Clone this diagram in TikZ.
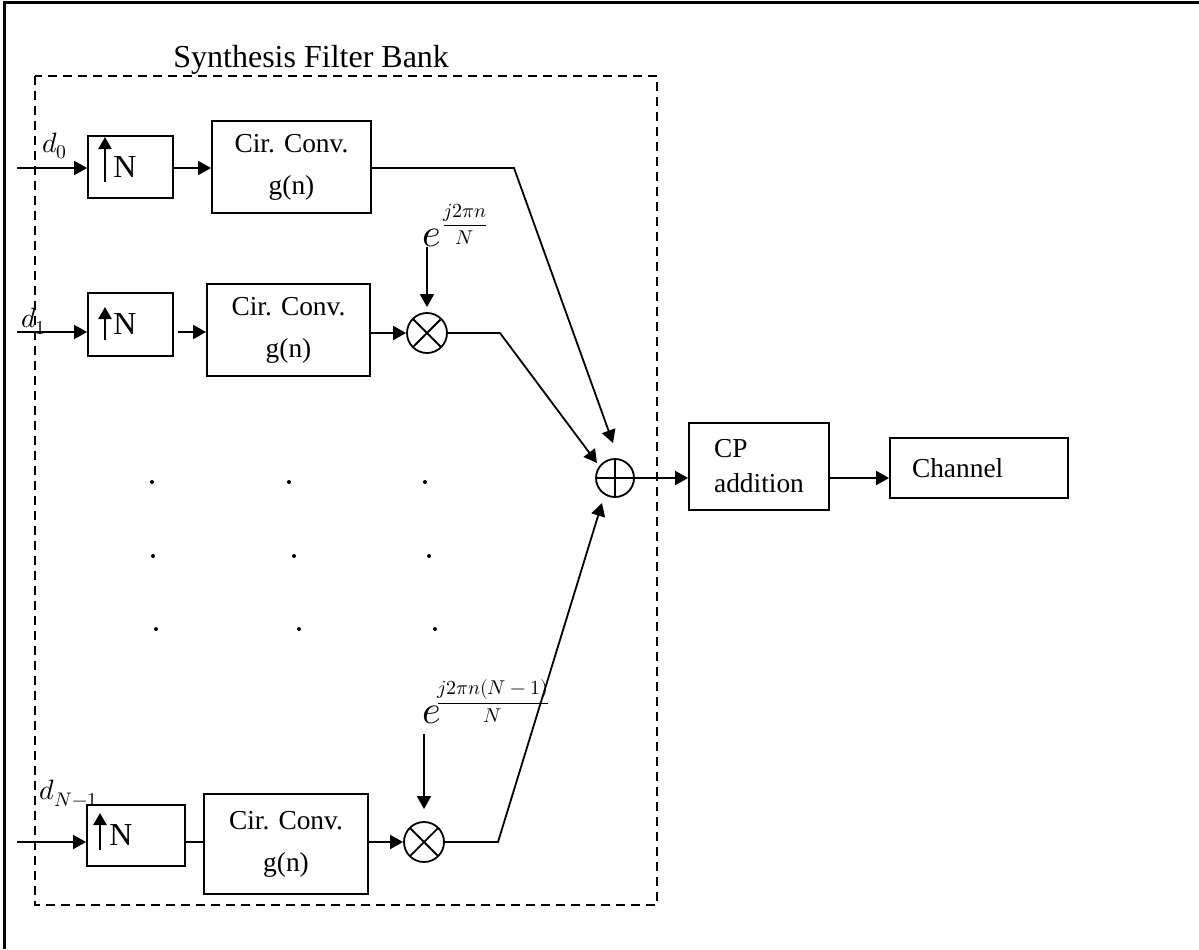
\documentclass[tikz,border=0pt]{standalone}
\usepackage{fontspec}
\usepackage{unicode-math}
\setmainfont{Liberation Serif}
\setmathfont{Latin Modern Math}
\usetikzlibrary{arrows.meta,calc}
\begin{document}
\begin{tikzpicture}[x=0.5pt,y=-0.5pt,
  stage/.style={draw,line width=0.9pt,inner sep=0pt,align=center,font=\fontsize{13.7}{21}\selectfont},
  upbox/.style={draw,line width=0.9pt,inner sep=0pt,font=\fontsize{16}{16}\selectfont},
  wire/.style={line width=0.9pt},
  arr/.style={wire,-{Triangle[length=6.5pt,width=7pt]}},
  uparr/.style={line width=1.2pt,-{Triangle[length=6pt,width=6.5pt]}},
  mixer/.style={circle,draw,line width=0.9pt,minimum size=20pt,inner sep=0pt,
    path picture={\draw[line width=0.9pt] (path picture bounding box.north west)--(path picture bounding box.south east)
      (path picture bounding box.north east)--(path picture bounding box.south west);}},
  adder/.style={circle,draw,line width=0.9pt,minimum size=19pt,inner sep=0pt,
    path picture={\draw[line width=0.9pt] (path picture bounding box.north)--(path picture bounding box.south)
      (path picture bounding box.east)--(path picture bounding box.west);}},
  sig/.style={font=\fontsize{14}{14}\selectfont,inner sep=0pt},
  expo/.style={font=\fontsize{20}{20}\selectfont,inner sep=0pt},
  frc/.style={font=\fontsize{10}{10}\selectfont,inner sep=0pt}
]
\useasboundingbox (0,0) rectangle (1199,949);
% outer frame
\draw[line width=1.5pt] (4,949) -- (4,2) -- (1199,2);
% filter bank frame
\draw[line width=1.1pt,dash pattern=on 4.5pt off 3pt] (35,76) rectangle (657,905);
\node[font=\fontsize{16}{16}\selectfont,anchor=base west,inner sep=0pt] (title) at (173,67) {Synthesis Filter Bank};

% ---- row 0
\coordinate (i0) at (17,168);
\node[upbox,minimum width=42.5pt,minimum height=31pt] (u0) at (130.5,167) {N\hspace*{5.5pt}};
\draw[uparr] ($(u0.center)+(-25.5,15)$) -- ($(u0.center)+(-25.5,-30)$);
\node[stage,minimum width=79.5pt,minimum height=46pt] (c0) at (291.5,167) {Cir. Conv.\\g(n)};
\node[sig] (d0) at (55,146) {$d_0$};
\draw[arr] (i0) -- (i0 -| u0.west);
\draw[arr] (u0.east |- i0) -- (c0.west |- i0);
\coordinate (b0) at (514,168);
\coordinate (t0) at (613,443);
\draw[arr] (c0.east |- i0) -- (b0) -- (t0);

% ---- row 1
\coordinate (i1) at (17,332);
\node[upbox,minimum width=42.5pt,minimum height=31.5pt] (u1) at (130.5,324.5) {N\hspace*{5.5pt}};
\draw[uparr] ($(u1.center)+(-25.5,15.5)$) -- ($(u1.center)+(-25.5,-17.5)$);
\node[stage,minimum width=81.5pt,minimum height=46pt] (c1) at (288.5,330) {Cir. Conv.\\g(n)};
\node[mixer] (m1) at (427,333) {};
\node[sig] (d1) at (34,321) {$d_1$};
\draw[arr] (i1) -- (i1 -| u1.west);
\draw[arr,shorten <=2pt] (u1.east |- i1) -- (c1.west |- i1);
\draw[arr] (c1.east |- m1) -- (m1.west);
\coordinate (b1) at (500,333);
\coordinate (t1) at (597,463);
\draw[arr] (m1.east) -- (b1) -- (t1);
\node[expo] (e1) at (432,238) {$e$};
\node[frc] (f1) at (465,224) {$\displaystyle\frac{j2\pi n}{N}$};
\draw[arr,shorten >=2.5pt] (m1.north |- e1.south) -- (m1.north);

% ---- dots
\foreach \p in {(152,482),(289,482),(425,482),(153,556),(294,556),(429,556),(156,629),(299,629),(435,629)}
  \fill \p circle (1pt);

% ---- row N-1
\coordinate (i2) at (17,842);
\node[upbox,minimum width=49pt,minimum height=30.5pt] (u2) at (136,835.5) {N\hspace*{15pt}};
\draw[uparr] ($(u2.center)+(-36,14.5)$) -- ($(u2.center)+(-36,-22.5)$);
\node[stage,minimum width=82pt,minimum height=50pt] (c2) at (286,844) {Cir. Conv.\\g(n)};
\node[mixer] (m2) at (424,842) {};
\node[sig] (d2) at (69,793) {$d_{N-1}$};
\draw[arr] (i2) -- (i2 -| u2.west);
\draw[wire] (u2.east |- i2) -- (c2.west |- i2);
\draw[arr] (c2.east |- m2) -- (m2.west);
\coordinate (b2) at (498,842);
\coordinate (t2) at (602,503);
\draw[arr] (m2.east) -- (b2) -- (t2);
\node[expo] (e2) at (432,715) {$e$};
\node[frc] (f2) at (493,701) {$\displaystyle\frac{j2\pi n(N-1)}{N}$};
\draw[arr,shorten <=5pt,shorten >=6pt] (m2.north |- e2.south) -- (m2.north);

% ---- adder, CP, channel
\node[adder] (s) at (615,478) {};
\node[stage,minimum width=70pt,minimum height=43.5pt,align=left,font=\fontsize{13.7}{17.5}\selectfont] (cp) at (759,466.5) {CP\\addition};
\draw[arr] (s.east) -- (cp.west |- s);
\node[draw,line width=0.9pt,inner xsep=11pt,inner ysep=0pt,text width=67pt,minimum height=30pt,align=left,font=\fontsize{13.7}{17}\selectfont] (ch) at (979,468) {Channel};
\draw[arr] (cp.east |- s) -- (ch.west |- s);
\end{tikzpicture}
\end{document}
